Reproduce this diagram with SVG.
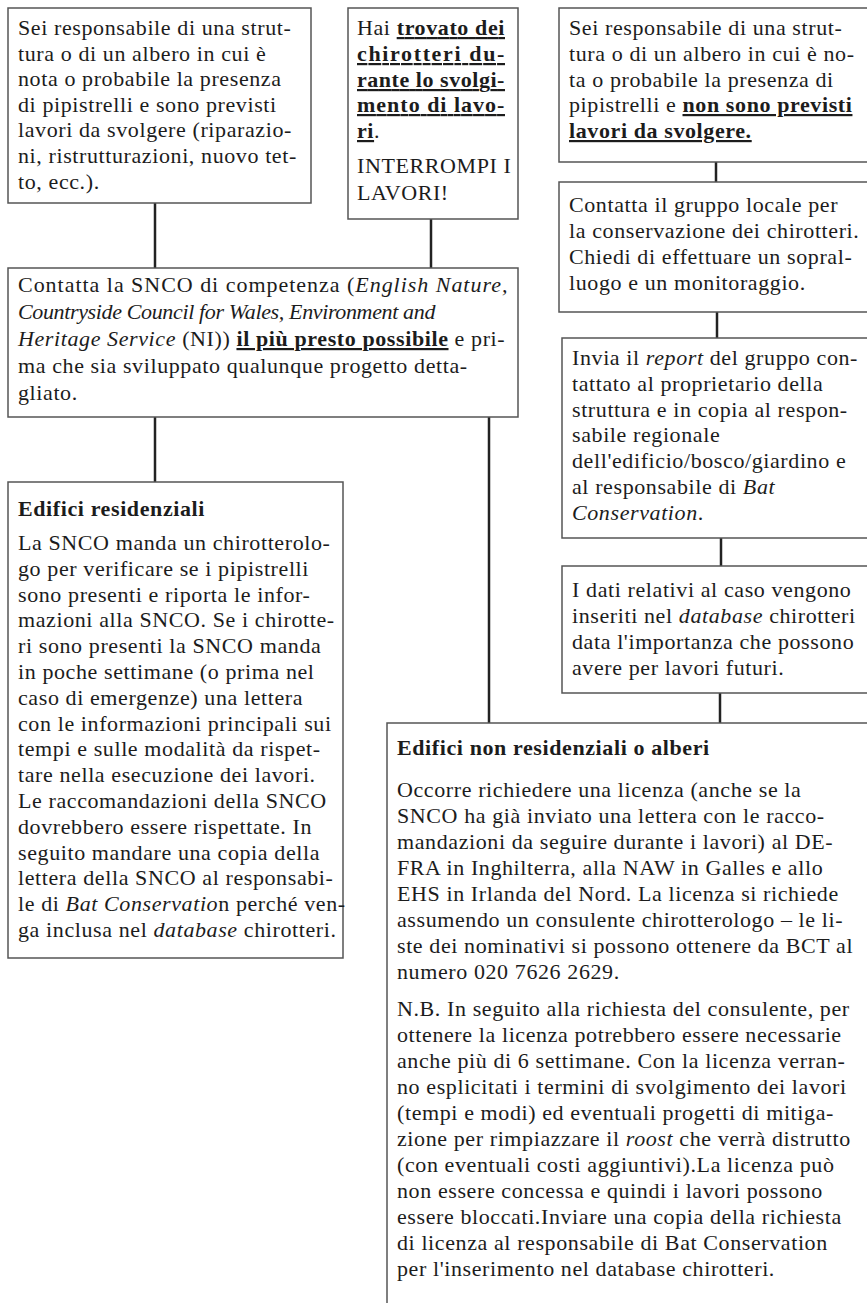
<svg xmlns="http://www.w3.org/2000/svg" width="867" height="1303" viewBox="0 0 867 1303">
<style>
.t{font-family:"Liberation Serif","Times New Roman",serif;font-size:22px;letter-spacing:0.6px;fill:#1c1c1c}
.b{font-weight:bold}
.i{font-style:italic}
.u{text-decoration:underline}
.box{fill:#fff;stroke:#555;stroke-width:1.5}
.conn{stroke:#222;stroke-width:2.5;fill:none}
</style>
<rect width="867" height="1303" fill="#fff"/>
<g id="connectors">
<line class="conn" x1="155" y1="203" x2="155" y2="268"/>
<line class="conn" x1="431" y1="219" x2="431" y2="268"/>
<line class="conn" x1="155" y1="417" x2="155" y2="482"/>
<line class="conn" x1="489" y1="417" x2="489" y2="723"/>
<line class="conn" x1="716" y1="162" x2="716" y2="182"/>
<line class="conn" x1="717" y1="312" x2="717" y2="338"/>
<line class="conn" x1="721" y1="538" x2="721" y2="566"/>
<line class="conn" x1="720" y1="693" x2="720" y2="723"/>
</g>
<g id="n1">
<rect class="box" x="8" y="8" width="303" height="195"/>
<text class="t">
<tspan x="18" y="35">Sei responsabile di una strut-</tspan>
<tspan x="18" y="60.6">tura o di un albero in cui è</tspan>
<tspan x="18" y="86.2">nota o probabile la presenza</tspan>
<tspan x="18" y="111.8">di pipistrelli e sono previsti</tspan>
<tspan x="18" y="137.4">lavori da svolgere  (riparazio-</tspan>
<tspan x="18" y="163">ni, ristrutturazioni, nuovo tet-</tspan>
<tspan x="18" y="188.6">to, ecc.).</tspan>
</text>
</g>
<g id="n2">
<rect class="box" x="348" y="8" width="170" height="211"/>
<text class="t" x="357" y="35" textLength="148" lengthAdjust="spacing">Hai <tspan class="b u">trovato dei</tspan></text>
<text class="t b u" x="357" y="61" textLength="148" lengthAdjust="spacing">chirotteri du-</text>
<text class="t b u" x="357" y="87" textLength="148" lengthAdjust="spacing">rante lo svolgi-</text>
<text class="t b u" x="357" y="112" textLength="148" lengthAdjust="spacing">mento di lavo-</text>
<text class="t">
<tspan x="357" y="138"><tspan class="b u">ri</tspan>.</tspan>
<tspan x="357" y="173">INTERROMPI I</tspan>
<tspan x="357" y="200">LAVORI!</tspan>
</text>
</g>
<g id="n3">
<rect class="box" x="559" y="8" width="330" height="154"/>
<text class="t">
<tspan x="569" y="35">Sei responsabile di una strut-</tspan>
<tspan x="569" y="61">tura o di un albero in cui è no-</tspan>
<tspan x="569" y="87">ta o probabile la presenza di</tspan>
<tspan x="569" y="112">pipistrelli e <tspan class="b u">non sono previsti</tspan></tspan>
<tspan x="569" y="138" class="b u">lavori da svolgere.</tspan>
</text>
</g>
<g id="n4">
<rect class="box" x="8" y="268" width="510" height="149"/>
<text class="t" x="18" y="292" textLength="490" lengthAdjust="spacing">Contatta la SNCO di competenza (<tspan class="i">English Nature,</tspan></text>
<text class="t i" x="18" y="319" textLength="418" lengthAdjust="spacing">Countryside Council for Wales, Environment and</text>
<text class="t">
<tspan x="18" y="346"><tspan class="i">Heritage Service</tspan> (NI))  <tspan class="b u">il più presto possibile</tspan> e pri-</tspan>
<tspan x="18" y="373">ma che sia sviluppato qualunque progetto detta-</tspan>
<tspan x="18" y="400">gliato.</tspan>
</text>
</g>
<g id="n5">
<rect class="box" x="8" y="482" width="335" height="476"/>
<text class="t">
<tspan x="18" y="516" class="b">Edifici residenziali</tspan>
<tspan x="18" y="550">La SNCO  manda un chirotterolo-</tspan>
<tspan x="18" y="575.8">go per verificare se i pipistrelli</tspan>
<tspan x="18" y="601.6">sono presenti e riporta le infor-</tspan>
<tspan x="18" y="627.4">mazioni alla SNCO. Se i chirotte-</tspan>
<tspan x="18" y="653.2">ri sono presenti la SNCO manda</tspan>
<tspan x="18" y="679">in poche settimane (o prima nel</tspan>
<tspan x="18" y="704.8">caso di emergenze) una lettera</tspan>
<tspan x="18" y="730.6">con le informazioni principali sui</tspan>
<tspan x="18" y="756.4">tempi e sulle modalità da rispet-</tspan>
<tspan x="18" y="782.2">tare nella esecuzione dei lavori.</tspan>
<tspan x="18" y="808">Le raccomandazioni della SNCO</tspan>
<tspan x="18" y="833.8">dovrebbero essere rispettate. In</tspan>
<tspan x="18" y="859.6">seguito mandare una copia della</tspan>
<tspan x="18" y="885.4">lettera della SNCO al responsabi-</tspan>
<tspan x="18" y="911.2">le di <tspan class="i">Bat Conservatio</tspan>n perché ven-</tspan>
<tspan x="18" y="937">ga inclusa nel <tspan class="i">database</tspan> chirotteri.</tspan>
</text>
</g>
<g id="n6">
<rect class="box" x="559" y="182" width="330" height="130"/>
<text class="t">
<tspan x="569" y="212">Contatta il gruppo locale per</tspan>
<tspan x="569" y="238">la conservazione dei chirotteri.</tspan>
<tspan x="569" y="264">Chiedi di effettuare un sopral-</tspan>
<tspan x="569" y="290">luogo e un monitoraggio.</tspan>
</text>
</g>
<g id="n7">
<rect class="box" x="562" y="338" width="330" height="200"/>
<text class="t">
<tspan x="572" y="365">Invia il <tspan class="i">report</tspan> del gruppo con-</tspan>
<tspan x="572" y="391">tattato al proprietario della</tspan>
<tspan x="572" y="417">struttura e in copia al respon-</tspan>
<tspan x="572" y="442">sabile regionale</tspan>
<tspan x="572" y="468">dell'edificio/bosco/giardino e</tspan>
<tspan x="572" y="494">al responsabile di <tspan class="i">Bat</tspan></tspan>
<tspan x="572" y="520"><tspan class="i">Conservation</tspan>.</tspan>
</text>
</g>
<g id="n8">
<rect class="box" x="562" y="566" width="330" height="127"/>
<text class="t">
<tspan x="572" y="597">I dati relativi al caso vengono</tspan>
<tspan x="572" y="623">inseriti nel <tspan class="i">database</tspan> chirotteri</tspan>
<tspan x="572" y="649">data l'importanza che possono</tspan>
<tspan x="572" y="675">avere per lavori futuri.</tspan>
</text>
</g>
<g id="n9">
<rect class="box" x="387" y="723" width="500" height="600"/>
<text class="t">
<tspan x="397" y="755" class="b">Edifici non residenziali o alberi</tspan>
<tspan x="397" y="797">Occorre richiedere una licenza (anche se la</tspan>
<tspan x="397" y="823">SNCO ha già inviato una lettera con le racco-</tspan>
<tspan x="397" y="849">mandazioni da seguire durante i lavori) al DE-</tspan>
<tspan x="397" y="875">FRA in Inghilterra, alla NAW in Galles e allo</tspan>
<tspan x="397" y="901">EHS in Irlanda del Nord. La licenza si richiede</tspan>
<tspan x="397" y="927">assumendo un consulente chirotterologo – le li-</tspan>
<tspan x="397" y="953">ste dei nominativi si possono ottenere da BCT al</tspan>
<tspan x="397" y="979">numero 020 7626 2629.</tspan>
<tspan x="397" y="1016">N.B. In seguito alla richiesta del consulente, per</tspan>
<tspan x="397" y="1042">ottenere la licenza potrebbero essere necessarie</tspan>
<tspan x="397" y="1068">anche più di 6 settimane. Con la licenza verran-</tspan>
<tspan x="397" y="1094">no esplicitati i termini di svolgimento dei lavori</tspan>
<tspan x="397" y="1120">(tempi e modi) ed eventuali progetti di mitiga-</tspan>
<tspan x="397" y="1146">zione per rimpiazzare il <tspan class="i">roost</tspan> che verrà distrutto</tspan>
<tspan x="397" y="1172">(con eventuali costi aggiuntivi).La licenza può</tspan>
<tspan x="397" y="1198">non essere concessa e quindi i lavori possono</tspan>
<tspan x="397" y="1224">essere bloccati.Inviare una copia della richiesta</tspan>
<tspan x="397" y="1250">di licenza al responsabile di Bat Conservation</tspan>
<tspan x="397" y="1276">per l'inserimento nel  database chirotteri.</tspan>
</text>
</g>
</svg>
